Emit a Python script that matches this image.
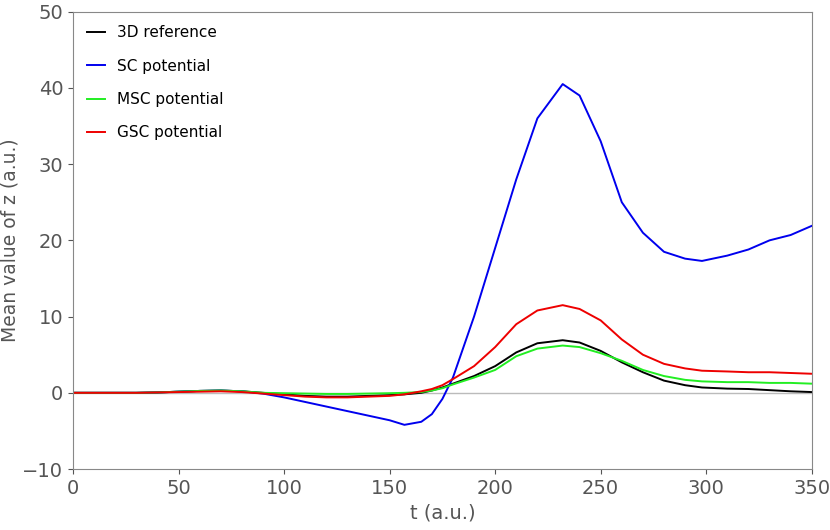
import numpy as np, pandas as pd, seaborn as sns, matplotlib
matplotlib.use("Agg")
import matplotlib.pyplot as plt

t = [0,10,20,30,40,50,60,70,80,90,100,110,120,130,140,150,157,165,170,175,180,190,200,210,220,232,240,250,260,270,280,290,298,310,320,330,340,350]
ref3d = [0,0,0,0,0.05,0.15,0.25,0.3,0.2,0,-0.2,-0.4,-0.5,-0.5,-0.4,-0.3,-0.2,0,0.3,0.7,1.2,2.2,3.5,5.3,6.5,6.9,6.6,5.5,4.0,2.7,1.6,1.0,0.7,0.55,0.5,0.35,0.2,0.1]
sc = [0,0,0,0,0.05,0.15,0.25,0.3,0.2,-0.1,-0.6,-1.2,-1.8,-2.4,-3.0,-3.6,-4.2,-3.8,-2.8,-0.8,2.0,10,19,28,36,40.5,39,33,25,21,18.5,17.6,17.3,18.0,18.8,20.0,20.7,21.9]
msc = [0,0,0,0,0.05,0.15,0.25,0.3,0.2,0,-0.05,-0.1,-0.15,-0.15,-0.1,-0.05,0,0.1,0.3,0.6,1.1,2.0,3.0,4.8,5.8,6.2,6.0,5.2,4.2,3.0,2.2,1.7,1.5,1.4,1.4,1.3,1.3,1.2]
gsc = [0,0,0,0,0.05,0.1,0.15,0.2,0.1,-0.1,-0.3,-0.5,-0.6,-0.6,-0.5,-0.4,-0.2,0.2,0.5,1.0,1.8,3.5,6.0,9.0,10.8,11.5,11.0,9.5,7.0,5.0,3.8,3.2,2.9,2.8,2.7,2.7,2.6,2.5]

names = ["3D reference","SC potential","MSC potential","GSC potential"]
df = pd.concat([pd.DataFrame({"t":t,"z":v,"s":n}) for n,v in zip(names,[ref3d,sc,msc,gsc])])

fig, ax = plt.subplots(figsize=(8.3,5.3), dpi=100)
fig.subplots_adjust(left=0.088, right=0.978, top=0.978, bottom=0.115)
ax.axhline(0, color="#bbbbbb", lw=1)
sns.lineplot(data=df, x="t", y="z", hue="s", palette=["black","#0000ee","#22ee22","#ee0000"], lw=1.4, ax=ax)
ax.set_xlim(0,350); ax.set_ylim(-10,50)
ax.set_xlabel("t (a.u.)", fontsize=14, color="#555555")
ax.set_ylabel("Mean value of z (a.u.)", fontsize=13.5, color="#555555", labelpad=2)
ax.tick_params(labelsize=14, colors="#555555")
for s in ax.spines.values(): s.set_color("#888888")
leg = ax.legend(frameon=False, loc="upper left", fontsize=11, handlelength=1.2, labelspacing=1.2)
fig.savefig("out.png")
